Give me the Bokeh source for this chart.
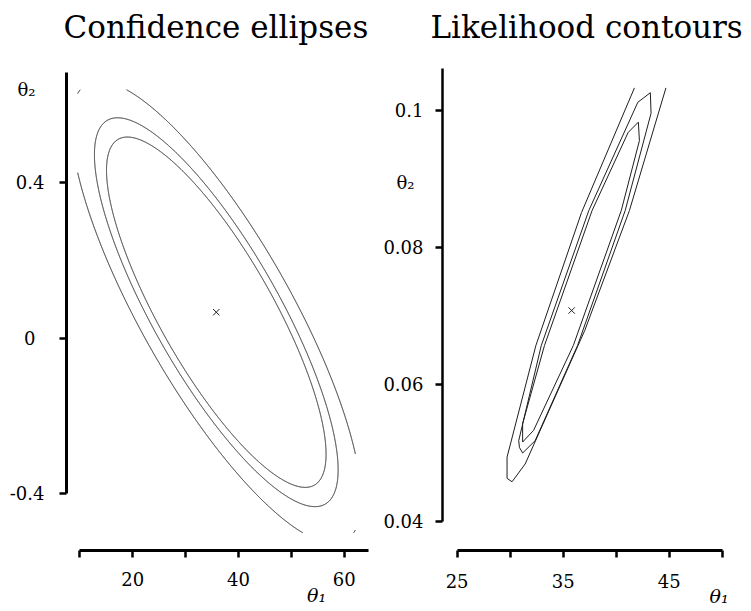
import numpy as np
from bokeh.plotting import figure
from bokeh.models import Range1d, FixedTicker, LinearAxis, Title
from bokeh.layouts import row
from bokeh.embed import file_html
from bokeh.resources import INLINE

# ---------------- data ----------------
titles = ["Confidence ellipses", "Likelihood contours"]

# left panel: confidence ellipses around the estimate
ell_center_t1 = 35.8
ell_center_t2 = 0.067
ell_half_t1 = 20.75          # half-width (theta1) of the innermost ellipse
ell_half_t2 = 0.451          # half-height (theta2) of the innermost ellipse
ell_corr = -0.81
ell_levels = [1.0, 1.11, 1.32]
ell_window_t1 = [9.6, 62.1]  # plotted region
ell_window_t2 = [-0.501, 0.64]
left_xticks = [10, 20, 30, 40, 50, 60]
left_xhidden = [10, 30, 50]
left_yticks = [-0.4, 0.0, 0.4]
left_ylabels = ["-0.4", "0\u2002", "0.4"]
left_t1_pos = 54.75          # where the theta1 name sits along the x axis
left_t2_pos = 0.6405         # where the theta2 name sits along the y axis

# right panel: likelihood contours
mle_t1 = 35.8
mle_t2 = 0.0708
outer_t1 = [41.72, 36.73, 32.43, 29.71, 29.71, 30.18, 31.42, 37.04, 41.25, 44.69]
outer_t2 = [0.1033, 0.0851, 0.0657, 0.0494, 0.0463, 0.0458, 0.0484, 0.0679, 0.0854, 0.1033]
middle_t1 = [43.22, 42.04, 37.42, 32.94, 30.81, 30.88, 31.18, 32.36, 36.36, 40.85, 43.29, 43.22]
middle_t2 = [0.1026, 0.1012, 0.0854, 0.0657, 0.0518, 0.0508, 0.0500, 0.0518, 0.0657, 0.0854, 0.0996, 0.1026]
inner_t1 = [42.09, 41.13, 37.73, 33.24, 31.18, 31.18, 32.21, 35.96, 40.48, 42.19, 42.09]
inner_t2 = [0.0983, 0.0968, 0.0854, 0.0657, 0.0543, 0.0516, 0.0533, 0.0657, 0.0854, 0.0956, 0.0983]
right_xticks = [25, 30, 35, 40, 45, 50]
right_xhidden = [30, 40, 50]
right_yticks = [0.04, 0.06, 0.08, 0.1]
right_ylabels = ["0.04", "0.06", "0.08", "0.1"]
right_t1_pos = 49.70
right_t2_pos = 0.0895

SERIF = "DejaVu Serif"
LINE = "#1e1e1e"


def make_fig(width, mbl, mbr, mbt, mbb, xr, yr, title, title_offset):
    p = figure(width=width, height=611, x_range=Range1d(*xr), y_range=Range1d(*yr),
               output_backend="svg", toolbar_location=None,
               min_border_left=mbl, min_border_right=mbr,
               min_border_top=mbt, min_border_bottom=mbb)
    p.grid.visible = False
    p.outline_line_color = None
    p.background_fill_color = "white"
    p.border_fill_color = "white"
    p.title.text = title
    p.title.align = "left"
    p.title.offset = title_offset
    p.title.text_font = SERIF
    p.title.text_font_size = "31px"
    p.title.text_font_style = "normal"
    p.title.text_color = "black"
    p.title.standoff = 6
    # empty band between the title and the plotting area
    p.add_layout(Title(text="\u00a0", text_font_size="14px", standoff=0), "above")
    return p


def style_axis(ax, ticks, bounds, lw=3):
    ax.ticker = FixedTicker(ticks=ticks, minor_ticks=[])
    ax.bounds = bounds
    ax.axis_line_width = lw
    ax.axis_line_color = "black"
    ax.major_tick_line_width = 2.5
    ax.major_tick_line_color = "black"
    ax.major_tick_out = 7
    ax.major_tick_in = 0
    ax.minor_tick_out = 0
    ax.minor_tick_in = 0
    ax.major_label_text_font = SERIF
    ax.major_label_text_font_size = "18px"
    ax.major_label_text_color = "black"


def label_axis(ticks, labels, standoff, size="18px", style="normal"):
    ax = LinearAxis(ticker=FixedTicker(ticks=ticks, minor_ticks=[]),
                    major_label_overrides=dict(zip(ticks, labels)))
    ax.axis_line_color = None
    ax.major_tick_line_color = None
    ax.minor_tick_line_color = None
    ax.major_tick_out = 0
    ax.major_tick_in = 0
    ax.minor_tick_out = 0
    ax.minor_tick_in = 0
    ax.major_label_standoff = standoff
    ax.major_label_text_font = SERIF
    ax.major_label_text_font_size = size
    ax.major_label_text_font_style = style
    ax.major_label_text_color = "black"
    return ax


# ---------------- left panel ----------------
p1 = make_fig(380, 66, 8, 65, 60, (7.486, 65.33), (-0.5465, 0.7022), titles[0], -3)
xa = p1.xaxis[0]
style_axis(xa, left_xticks, (10, 64.5))
xa.major_label_overrides = {h: "" for h in left_xhidden}
xa.major_label_standoff = 14
ya = p1.yaxis[0]
style_axis(ya, left_yticks, (-0.4, 0.685))
ya.major_label_overrides = {v: "" for v in left_yticks}
ya.major_label_standoff = 0
p1.add_layout(label_axis(left_yticks + [left_t2_pos], left_ylabels + ["θ₂\u2002"], 15), "left")
p1.add_layout(label_axis([left_t1_pos], ["θ₁"], -5, size="19px", style="italic"), "below")

t = np.linspace(0, 2 * np.pi, 4000)
for k in ell_levels:
    u = np.cos(t)
    v = ell_corr * np.cos(t) + np.sqrt(1 - ell_corr ** 2) * np.sin(t)
    xs = ell_center_t1 + k * ell_half_t1 * u
    ys = ell_center_t2 + k * ell_half_t2 * v
    out = ((xs < ell_window_t1[0]) | (xs > ell_window_t1[1]) |
           (ys < ell_window_t2[0]) | (ys > ell_window_t2[1]))
    xs = np.where(out, np.nan, xs)
    ys = np.where(out, np.nan, ys)
    p1.line(xs, ys, line_color=LINE, line_width=1)

p1.scatter([ell_center_t1], [ell_center_t2], marker="x", size=9,
           line_color=LINE, line_width=1)

# ---------------- right panel ----------------
p2 = make_fig(371, 60, 23, 65, 61, (23.624, 50.59), (0.035766, 0.10657), titles[1], -12)
xb = p2.xaxis[0]
style_axis(xb, right_xticks, (25, 50))
xb.major_label_overrides = {h: "" for h in right_xhidden}
xb.major_label_standoff = 16
yb = p2.yaxis[0]
style_axis(yb, right_yticks, (0.04, 0.1061), lw=2.5)
yb.major_label_overrides = {v: "" for v in right_yticks}
yb.major_label_standoff = 0
p2.add_layout(label_axis(right_yticks + [right_t2_pos], right_ylabels + ["θ₂\u2002"], 12), "left")
p2.add_layout(label_axis([right_t1_pos], ["θ₁"], -6, size="19px", style="italic"), "below")

for xs, ys in [(outer_t1, outer_t2), (middle_t1, middle_t2), (inner_t1, inner_t2)]:
    p2.line(xs, ys, line_color=LINE, line_width=1)

p2.scatter([mle_t1], [mle_t2], marker="x", size=9, line_color=LINE, line_width=1)

layout = row(p1, p2)
open("out.html", "w").write(file_html(layout, INLINE))
